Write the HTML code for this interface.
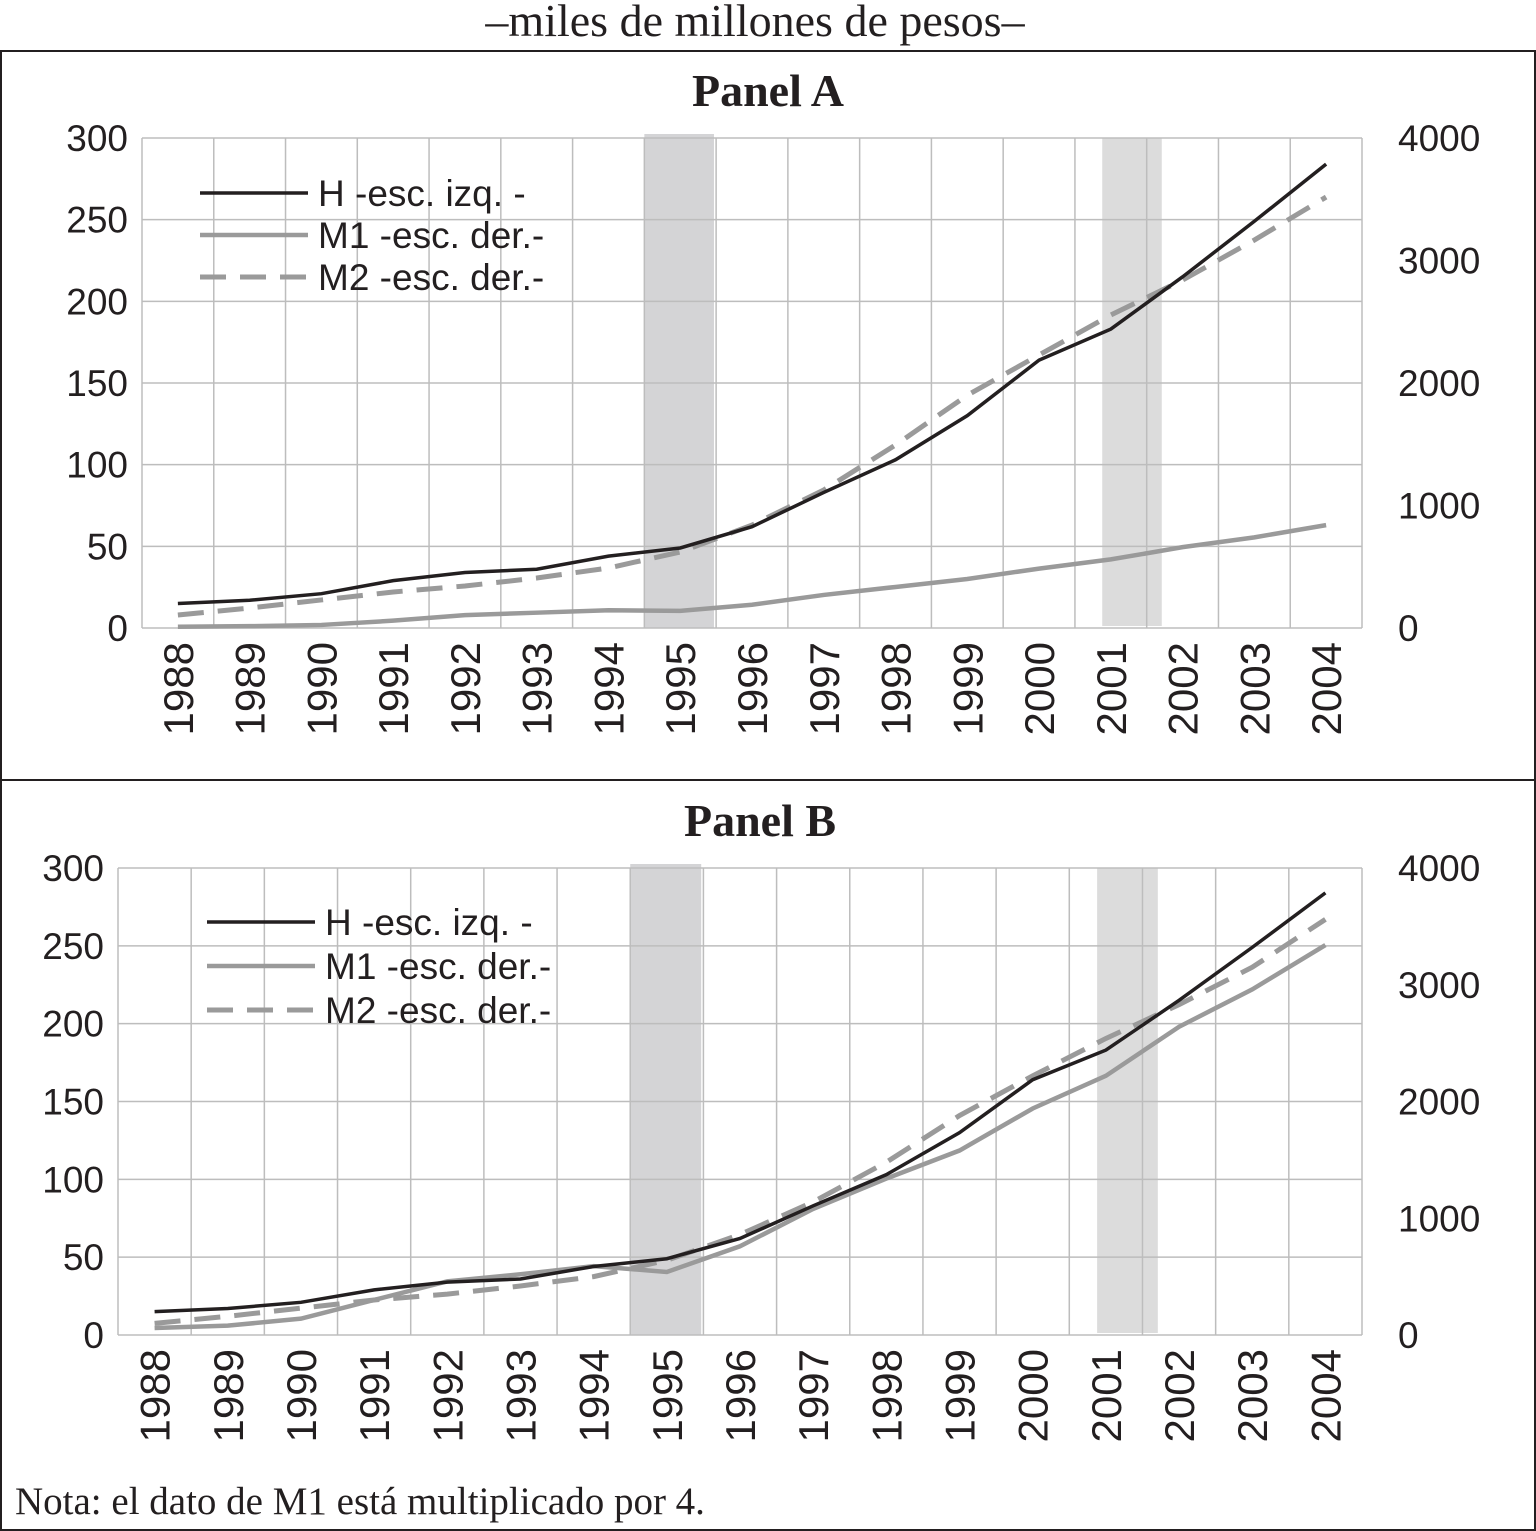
<!DOCTYPE html>
<html><head><meta charset="utf-8"><style>
html,body{margin:0;padding:0;background:#fff}
svg{display:block}
.t{font-family:"Liberation Sans",sans-serif;font-size:37px;fill:#231f20}
.y{font-family:"Liberation Sans",sans-serif;font-size:42px;fill:#231f20}
.s{font-family:"Liberation Serif",serif;fill:#231f20}
</style></head><body>
<svg id="chart" width="1536" height="1531" viewBox="0 0 1536 1531" xmlns="http://www.w3.org/2000/svg">
<text class="s" x="755" y="36" font-size="46" text-anchor="middle">–miles de millones de pesos–</text>
<rect x="1" y="51" width="1534" height="1479" fill="none" stroke="#231f20" stroke-width="2"/>
<line x1="0" y1="780" x2="1536" y2="780" stroke="#231f20" stroke-width="2"/>
<text class="s" x="768" y="106" font-size="46" font-weight="bold" text-anchor="middle">Panel A</text>
<text class="s" x="760" y="836" font-size="46" font-weight="bold" text-anchor="middle">Panel B</text>
<text class="s" x="15" y="1514" font-size="39">Nota: el dato de M1 está multiplicado por 4.</text>
<g id="pa"></g>
<g id="pb"></g>
</svg>
<script>
const years = ["1988","1989","1990","1991","1992","1993","1994","1995","1996","1997","1998","1999","2000","2001","2002","2003","2004"];
const leftTicks = [0,50,100,150,200,250,300];
const rightTicks = [0,1000,2000,3000,4000];
const hA = [15,17,21,29,34,36,44,49,62,83,103,130,164,183,215,249,284];
const m1A = [10,15,25,60,105,125,145,140,190,270,335,400,485,560,660,740,840];
const m2A = [106,163,229,294,343,408,490,620,840,1127,1494,1900,2229,2555,2840,3167,3518];
const hB = [15,17,21,29,34,36,44,49,62,83,103,130,164,183,215,249,284];
const m1B = [60,80,140,300,460,520,590,540,760,1080,1340,1580,1940,2220,2640,2960,3340];
const m2B = [100,160,230,300,350,420,500,640,860,1140,1480,1880,2220,2540,2830,3150,3560];
const NS="http://www.w3.org/2000/svg";
function mk(p,tag,at){const e=document.createElementNS(NS,tag);for(const k in at)e.setAttribute(k,at[k]);p.appendChild(e);return e;}
function panel(g,cfg,H,M1,M2){
  const {x0,x1,y0,y1}=cfg; const n=years.length; const bw=(x1-x0)/n;
  const xs=i=>x0+bw*(i+0.5);
  const yl=v=>y1-(v/300)*(y1-y0);
  const yr=v=>y1-(v/4000)*(y1-y0);
  const i95=years.indexOf("1995"), i01=years.indexOf("2001");
  const r1=mk(g,'rect',{x:x0+bw*i95,y:y0-4,width:bw*0.97,height:y1-y0+4,fill:'#d4d4d6'});
  
  
  const r2=mk(g,'rect',{x:x0+bw*(i01+0.38),y:y0,width:bw*0.83,height:y1-y0-2,fill:'#dcdcdc'});
  
  
  for(let i=0;i<=n;i++){const l=mk(g,'line',{x1:x0+bw*i,x2:x0+bw*i,y1:y0,y2:y1,stroke:'#bdbdbd','stroke-width':1.5});
    
    }
  leftTicks.forEach(v=>{const l=mk(g,'line',{x1:x0,x2:x1,y1:yl(v),y2:yl(v),stroke:'#bdbdbd','stroke-width':1.5});
    
    
    const t=mk(g,'text',{x:cfg.lx,y:yl(v)+13,'text-anchor':'end',class:'t'});t.textContent=v;
    
    });
  rightTicks.forEach(v=>{const t=mk(g,'text',{x:1398,y:yr(v)+13,class:'t'});t.textContent=v;
    
    });
  years.forEach((yy,i)=>{const t=mk(g,'text',{x:0,y:0,class:'y','text-anchor':'end',transform:`translate(${xs(i)+15},${y1+14}) rotate(-90)`});t.textContent=yy;
    
    });
  const pts=(arr,f)=>arr.map((v,i)=>xs(i)+','+f(v)).join(' ');
  const a=mk(g,'polyline',{points:pts(M1,yr),fill:'none',stroke:'#9a9a9a','stroke-width':4.5});
  
  
  const b=mk(g,'polyline',{points:pts(M2,yr),fill:'none',stroke:'#9a9a9a','stroke-width':5,'stroke-dasharray':'26 14'});
  
  
  const c=mk(g,'polyline',{points:pts(H,yl),fill:'none',stroke:'#231f20','stroke-width':3.5});
  
  
  const L=cfg.leg;
  const items=[['H -esc. izq. -','#231f20',3.5,''],['M1  -esc. der.-','#9a9a9a',4.5,''],['M2  -esc. der.-','#9a9a9a',5,'26 14']];
  items.forEach((it,k)=>{const y=L.y+k*L.dy;
    const l=mk(g,'line',{x1:L.x,x2:L.x+108,y1:y,y2:y,stroke:it[1],'stroke-width':it[2],'stroke-dasharray':it[3]});
    
    
    const t=mk(g,'text',{x:L.x+118,y:y+13,class:'t'});t.textContent=it[0];
    
    });
}
panel(document.getElementById('pa'),{x0:142,x1:1362,y0:138,y1:628,lx:128,leg:{x:200,y:193,dy:42}},hA,m1A,m2A);
panel(document.getElementById('pb'),{x0:118,x1:1362,y0:868,y1:1335,lx:104,leg:{x:207,y:922,dy:44}},hB,m1B,m2B);
</script>
</body></html>
